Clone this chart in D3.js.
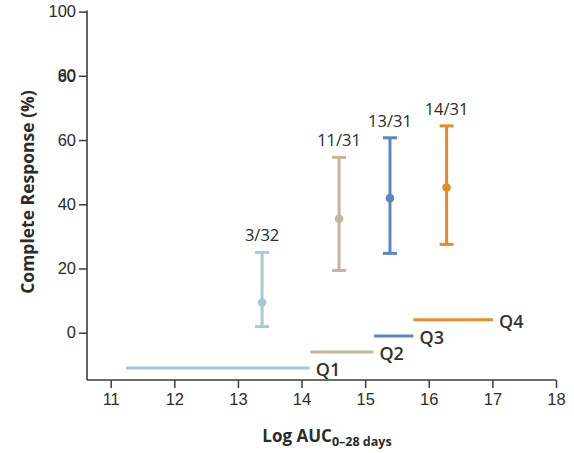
<!DOCTYPE html>
<html>
<head>
<meta charset="utf-8">
<script src="https://cdn.jsdelivr.net/npm/d3@7"></script>
<style>
  body { margin: 0; background: #fff; }
  svg { display: block; font-family: "Open Sans", "Noto Sans", sans-serif; }
</style>
</head>
<body>
<svg id="chart" width="574" height="453"></svg>
<script>
// Quartiles of exposure (log AUC, days 0-28)
const groups = ["Q1", "Q2", "Q3", "Q4"];
const fractions = ["3/32", "11/31", "13/31", "14/31"];
const pointX = [13.38, 14.59, 15.39, 16.28];
const responsePct = [9.4, 35.5, 41.9, 45.2];
const ciLow = [1.9, 19.4, 24.7, 27.5];
const ciHigh = [25.0, 54.6, 60.7, 64.4];
// Exposure range of each quartile and the level its bar is drawn at
const rangeStart = [11.24, 14.14, 15.14, 15.76];
const rangeEnd = [14.13, 15.13, 15.76, 17.01];
const rangeLevel = [-11, -6, -1, 4];
const colors = ["#a9c8d6", "#c3b59e", "#5a86c5", "#e68a2b"];

const xTicks = [11, 12, 13, 14, 15, 16, 17, 18];
const yTicks = [0, 20, 40, 60, 80, 100];

const svg = d3.select("#chart");
const plotLeft = 87, plotRight = 556, plotTop = 11.6, plotBottom = 380;

const x = d3.scaleLinear().domain([11, 18]).range([110.7, 556]);
const y = d3.scaleLinear().domain([0, 100]).range([332.7, 11.6]);

const axisColor = "#3b3b3b";
const textColor = "#2b2b2b";
const tickFont = 16.5;

// X axis
const gx = svg.append("g").attr("transform", `translate(0,${plotBottom})`)
  .call(d3.axisBottom(x).tickValues(xTicks).tickSize(8).tickPadding(5).tickFormat(d3.format("d")));
gx.select(".domain").remove();
gx.selectAll(".tick line").attr("stroke", axisColor).attr("stroke-width", 1.5);
gx.selectAll(".tick text").attr("fill", textColor).attr("font-size", tickFont).attr("font-family", "inherit");
svg.append("line").attr("x1", plotLeft).attr("x2", plotRight).attr("y1", plotBottom).attr("y2", plotBottom)
  .attr("stroke", axisColor).attr("stroke-width", 1.6);

// Y axis
const gy = svg.append("g").attr("transform", `translate(${plotLeft},0)`)
  .call(d3.axisLeft(y).tickValues(yTicks).tickSize(8).tickPadding(3).tickFormat(d3.format("d")));
gy.select(".domain").remove();
gy.selectAll(".tick line").attr("stroke", axisColor).attr("stroke-width", 1.5);
gy.selectAll(".tick text").attr("fill", textColor).attr("font-size", tickFont).attr("font-family", "inherit");
// overprinted "60" on the 80 tick, as printed
gy.append("text").attr("x", -11).attr("y", y(80)).attr("dy", "0.32em")
  .attr("text-anchor", "end").attr("fill", textColor).attr("font-size", tickFont).text("60");
svg.append("line").attr("x1", plotLeft).attr("x2", plotLeft).attr("y1", plotTop - 1).attr("y2", plotBottom)
  .attr("stroke", axisColor).attr("stroke-width", 1.6);

// Axis titles
svg.append("text").attr("transform", "translate(34,192) rotate(-90)")
  .attr("text-anchor", "middle").attr("font-weight", 700).attr("font-size", 17.5)
  .attr("fill", textColor).text("Complete Response (%)");

const xt = svg.append("text").attr("x", 327).attr("y", 442).attr("text-anchor", "middle")
  .attr("font-weight", 700).attr("font-size", 17).attr("fill", textColor);
xt.append("tspan").text("Log AUC");
xt.append("tspan").attr("dy", 4).attr("font-size", 12.5).text("0\u201328 days");

// Exposure ranges and responses
const capW = 7;
groups.forEach((g, i) => {
  svg.append("line")
    .attr("x1", x(rangeStart[i])).attr("x2", x(rangeEnd[i]))
    .attr("y1", y(rangeLevel[i])).attr("y2", y(rangeLevel[i]))
    .attr("stroke", colors[i]).attr("stroke-width", 3);
  svg.append("text").attr("x", x(rangeEnd[i]) + 6).attr("y", y(rangeLevel[i]) + 2)
    .attr("dy", "0.35em").attr("font-size", 18).attr("font-weight", 600)
    .attr("fill", "#333").text(g);

  // Response with 95% CI
  const cx = x(pointX[i]);
  svg.append("line").attr("x1", cx).attr("x2", cx)
    .attr("y1", y(ciLow[i])).attr("y2", y(ciHigh[i]))
    .attr("stroke", colors[i]).attr("stroke-width", 3);
  [ciLow[i], ciHigh[i]].forEach(v => {
    svg.append("line").attr("x1", cx - capW).attr("x2", cx + capW)
      .attr("y1", y(v)).attr("y2", y(v))
      .attr("stroke", colors[i]).attr("stroke-width", 3);
  });
  svg.append("circle").attr("cx", cx).attr("cy", y(responsePct[i])).attr("r", 4.3)
    .attr("fill", colors[i]);
  svg.append("text").attr("x", cx).attr("y", y(ciHigh[i]) - 11)
    .attr("text-anchor", "middle").attr("font-size", 16.5).attr("fill", textColor)
    .text(fractions[i]);
});
</script>
</body>
</html>
